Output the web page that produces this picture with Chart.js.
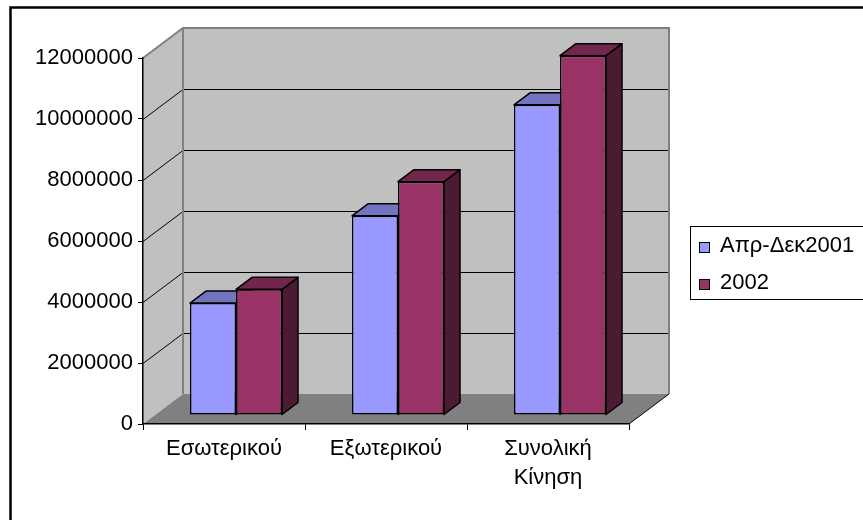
<!DOCTYPE html>
<html><head><meta charset="utf-8">
<script src="https://cdn.jsdelivr.net/npm/chart.js@4.4.0/dist/chart.umd.min.js"></script>
<style>html,body{margin:0;padding:0;background:#fff;}canvas{display:block;}</style>
</head><body>
<canvas id="c" width="863" height="520" style="width:863px;height:520px"></canvas>
<script>
// ---- data ----
const categories = ['Εσωτερικού', 'Εξωτερικού', ['Συνολική', 'Κίνηση']];
const seriesNames = ['Απρ-Δεκ2001', '2002'];
const values2001 = [3670000, 6530000, 10170000];
const values2002 = [4120000, 7650000, 11780000];
const yTicks = [0, 2000000, 4000000, 6000000, 8000000, 10000000, 12000000];

// ---- styles ----
const FONT_FAMILY = '"Liberation Sans", Arial, sans-serif';
const FONT = {family: FONT_FAMILY, size: 22};
const WALL = {dx: 40, dy: -30};
const BAR_OFF = 0.3, BAR_DEPTH = 0.4;
const faceColors = [
  {front: '#9999FF', top: '#7373BF', side: '#4D4D80'},
  {front: '#993366', top: '#73264D', side: '#4D1A33'}
];

function poly(ctx, pts) {
  ctx.beginPath();
  ctx.moveTo(pts[0][0], pts[0][1]);
  for (let i = 1; i < pts.length; i++) ctx.lineTo(pts[i][0], pts[i][1]);
  ctx.closePath();
  ctx.fill();
  ctx.stroke();
}

function drawFaces(chart, dsIndex) {
  const ctx = chart.ctx;
  const meta = chart.getDatasetMeta(dsIndex);
  const c = faceColors[dsIndex];
  const bdx = BAR_DEPTH * WALL.dx, bdy = BAR_DEPTH * WALL.dy;
  ctx.lineWidth = 1.5;
  ctx.strokeStyle = '#000';
  ctx.lineJoin = 'round';
  meta.data.forEach(el => {
    const {x, y, base, width} = el.getProps(['x', 'y', 'base', 'width'], true);
    const L = x - width / 2, R = x + width / 2;
    ctx.fillStyle = c.side;
    poly(ctx, [[R, y], [R + bdx, y + bdy], [R + bdx, base + bdy], [R, base]]);
    ctx.fillStyle = c.top;
    poly(ctx, [[L, y], [R, y], [R + bdx, y + bdy], [L + bdx, y + bdy]]);
  });
}

const threeD = {
  id: 'threeD',
  beforeDraw(chart) {
    const {ctx, chartArea: a, scales: {y}} = chart;
    const dx = WALL.dx, dy = WALL.dy;
    const top = y.getPixelForValue(y.max), bot = y.getPixelForValue(y.min);
    ctx.save();
    ctx.fillStyle = '#fff';
    ctx.fillRect(0, 0, chart.width, chart.height);
    // back wall
    ctx.fillStyle = '#C0C0C0';
    ctx.fillRect(a.left + dx, top + dy, a.right - a.left, bot - top);
    // left wall
    ctx.beginPath();
    ctx.moveTo(a.left, top); ctx.lineTo(a.left + dx, top + dy);
    ctx.lineTo(a.left + dx, bot + dy); ctx.lineTo(a.left, bot);
    ctx.closePath(); ctx.fill();
    // floor
    ctx.fillStyle = '#808080';
    ctx.beginPath();
    ctx.moveTo(a.left, bot); ctx.lineTo(a.left + dx, bot + dy);
    ctx.lineTo(a.right + dx, bot + dy); ctx.lineTo(a.right, bot);
    ctx.closePath(); ctx.fill();
    // gridlines
    ctx.strokeStyle = '#000';
    ctx.lineWidth = 1;
    ctx.beginPath();
    yTicks.forEach(v => {
      if (v <= y.min || v >= y.max) return;
      const p = Math.round(y.getPixelForValue(v)) + 0.5;
      ctx.moveTo(a.left, p);
      ctx.lineTo(a.left + dx, p + dy);
      ctx.lineTo(a.right + dx, p + dy);
    });
    ctx.stroke();
    // wall borders
    ctx.strokeStyle = '#808080';
    ctx.lineWidth = 2;
    ctx.beginPath();
    ctx.moveTo(a.left, top); ctx.lineTo(a.left + dx, top + dy);
    ctx.lineTo(a.right + dx, top + dy); ctx.lineTo(a.right + dx, bot + dy);
    ctx.moveTo(a.left + dx, top + dy); ctx.lineTo(a.left + dx, bot + dy);
    ctx.stroke();
    // floor right edge
    ctx.strokeStyle = '#000';
    ctx.lineWidth = 1;
    ctx.beginPath();
    ctx.moveTo(a.right, bot); ctx.lineTo(a.right + dx, bot + dy);
    ctx.stroke();
    ctx.restore();
  },
  beforeDatasetsDraw(chart) {
    const ctx = chart.ctx;
    ctx.save();
    ctx.translate(BAR_OFF * WALL.dx, BAR_OFF * WALL.dy);
    drawFaces(chart, 0);
  },
  afterDatasetsDraw(chart) {
    drawFaces(chart, 1);
    chart.ctx.restore();
  },
  afterDraw(chart) {
    const ctx = chart.ctx;
    ctx.save();
    // outer border
    ctx.strokeStyle = '#000';
    ctx.lineWidth = 2.5;
    ctx.beginPath();
    ctx.moveTo(10.5, 600); ctx.lineTo(10.5, 7.5); ctx.lineTo(1000, 7.5);
    ctx.stroke();
    // legend
    ctx.lineWidth = 1;
    ctx.strokeRect(690.5, 226.5, 400, 73);
    ctx.font = FONT.size + 'px ' + FONT_FAMILY;
    ctx.textBaseline = 'middle';
    ctx.textAlign = 'left';
    const rows = [247.5, 284.5];
    chart.data.datasets.forEach((ds, i) => {
      const cy = rows[i];
      ctx.fillStyle = ds.backgroundColor;
      ctx.fillRect(699.5, cy - 5, 10, 10);
      ctx.strokeStyle = '#000';
      ctx.strokeRect(699.5, cy - 5, 10, 10);
      ctx.fillStyle = '#000';
      ctx.fillText(ds.label, 720, cy - 1.5);
    });
    ctx.restore();
  }
};

new Chart(document.getElementById('c'), {
  type: 'bar',
  data: {
    labels: categories,
    datasets: [
      {label: seriesNames[0], data: values2001, backgroundColor: faceColors[0].front,
       borderColor: '#000', borderWidth: 1.5, borderSkipped: false},
      {label: seriesNames[1], data: values2002, backgroundColor: faceColors[1].front,
       borderColor: '#000', borderWidth: 1.5, borderSkipped: false}
    ]
  },
  options: {
    responsive: false,
    animation: false,
    devicePixelRatio: 1,
    barPercentage: 1,
    categoryPercentage: 0.568,
    layout: {padding: {left: 0, top: 58, right: 234, bottom: 0}},
    plugins: {legend: {display: false}, tooltip: {enabled: false}},
    scales: {
      x: {
        offset: true,
        grid: {display: true, drawOnChartArea: false, drawTicks: true, tickLength: 6, offset: true, color: '#000'},
        border: {display: true, color: '#000', width: 1.5},
        ticks: {font: {...FONT, lineHeight: 1.34}, color: '#000', padding: 4, maxRotation: 0, autoSkip: false},
        afterFit(s) { s.height = 96; }
      },
      y: {
        min: 0, max: 12000000,
        afterBuildTicks(s) { s.ticks = yTicks.map(v => ({value: v})); },
        grid: {display: true, drawOnChartArea: false, drawTicks: true, tickLength: 5, color: '#000'},
        border: {display: true, color: '#000', width: 1.5},
        ticks: {font: FONT, color: '#000', padding: 5, callback: v => String(v)},
        afterFit(s) { s.width = 143; }
      }
    }
  },
  plugins: [threeD]
});
</script>
</body></html>
